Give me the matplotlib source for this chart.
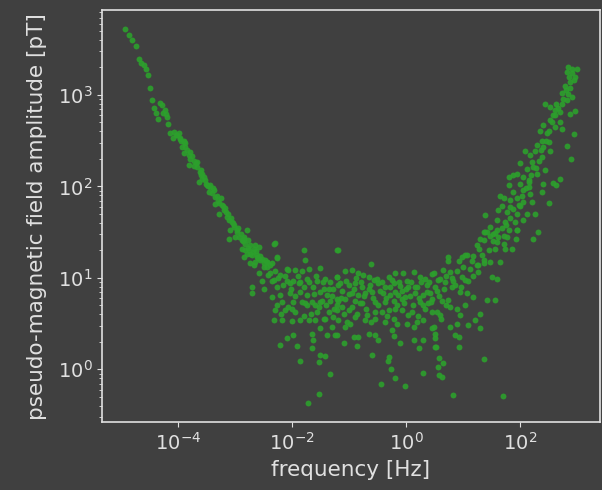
import numpy as np
import matplotlib
matplotlib.use("Agg")
import matplotlib.pyplot as plt
from matplotlib import ticker

# log10 of frequency [Hz] and amplitude [pT]
# low-frequency branch (~1/f)
lf_low = [-4.94, -4.87, -4.81, -4.74, -4.70, -4.65, -4.60, -4.57, -4.53, -4.50,
          -4.47, -4.43, -4.40, -4.36, -4.29, -4.24, -4.20, -4.18, -4.14, -4.10,
          -4.05, -3.97, -3.91, -3.88, -4.32, -4.27, -4.22,
          -4.08, -4.02, -3.97, -3.91, -3.88, -3.94, -3.91, -3.82, -3.79, -3.73,
          -3.70, -3.82, -3.67, -3.61, -3.59, -3.56, -3.64, -3.53, -3.50, -3.44,
          -3.38, -3.47, -3.32, -3.26, -3.35, -3.21, -3.18, -3.29, -3.15, -3.12,
          -3.06, -3.03, -2.97, -3.09, -2.91, -3.00, -3.12, -2.85, -2.80, -2.83,
          -2.74, -2.88, -2.68, -2.59, -2.80, -2.71, -2.62, -2.53, -2.44, -2.39,
          -2.65, -2.74, -2.27, -2.32, -2.50, -2.09,
          -3.99, -3.85, -3.76, -3.68, -3.63, -3.58, -3.52, -3.45, -3.41, -3.36,
          -3.30, -3.24, -3.20, -3.13, -3.08, -3.02, -2.95, -2.93, -2.86, -2.78,
          -2.69, -2.64, -2.57, -2.48,
          -3.95, -3.80, -3.72, -3.60, -3.48, -3.40, -3.28, -3.17, -3.05, -2.98,
          -2.89, -2.76, -2.60, -2.45]
la_low = [3.72, 3.65, 3.60, 3.53, 3.39, 3.35, 3.33, 3.28, 3.22, 3.08,
          2.94, 2.86, 2.80, 2.74, 2.89, 2.83, 2.76, 2.68, 2.58, 2.53,
          2.56, 2.53, 2.48, 2.43, 2.91, 2.80, 2.79,
          2.59, 2.56, 2.52, 2.50, 2.47, 2.43, 2.36, 2.34, 2.30, 2.28,
          2.25, 2.23, 2.21, 2.18, 2.14, 2.10, 2.05, 2.07, 2.01, 1.99,
          1.96, 1.94, 1.90, 1.87, 1.81, 1.79, 1.76, 1.70, 1.66, 1.63,
          1.61, 1.56, 1.52, 1.52, 1.48, 1.45, 1.43, 1.43, 1.52, 1.37,
          1.36, 1.32, 1.32, 1.34, 1.26, 1.25, 1.23, 1.21, 1.17, 1.14,
          1.17, 1.16, 1.23, 1.37, 1.16, 1.10,
          2.58, 2.40, 2.33, 2.27, 2.16, 2.08, 2.03, 2.02, 1.93, 1.88,
          1.84, 1.80, 1.74, 1.70, 1.65, 1.58, 1.55, 1.45, 1.40, 1.33,
          1.28, 1.29, 1.24, 1.20,
          2.50, 2.38, 2.22, 2.12, 2.00, 1.98, 1.82, 1.72, 1.60, 1.50,
          1.41, 1.30, 1.22, 1.12]

# noise floor
lf_floor = [-2.85, -2.77, -2.65, -2.83, -2.74, -2.85, -2.62, -2.56, -2.44, -2.36,
            -2.68, -2.50, -2.30, -2.59, -2.42, -2.21, -2.53, -2.36, -2.09, -1.98,
            -1.86, -1.74, -1.57, -1.42, -1.33, -1.22, -2.71, -2.50, -2.27, -2.04,
            -1.89, -1.63, -1.45, -1.28, -2.71, -2.36, -2.21, -2.04, -1.86, -1.74,
            -1.51, -1.39, -2.18, -1.98, -1.83, -1.65, -1.48, -1.33, -1.22, -2.27,
            -2.07, -1.74, -1.54, -1.22, -2.30, -2.12, -1.95, -1.68, -1.57, -1.36,
            -1.22, -2.33, -2.18, -2.01, -1.86, -1.71, -1.60, -1.42, -1.28, -1.51,
            -1.30, -1.65, -1.39, -1.25, -1.98, -2.09, -1.63, -2.21, -1.92, -1.65,
            -1.51, -1.42, -1.87, -1.54, -1.33, -1.53, -1.72, -2.31, -1.80, -1.21,
            -2.27, -1.77, -1.51, -1.83, -1.71, -2.07, -1.95,
            -1.19, -0.61, -1.08, -0.95, -0.84, -0.75, -0.66, -0.51, -1.22, -1.16,
            -1.01, -0.90, -0.78, -0.66, -0.49, -0.31, -0.19, -0.05, 0.13, 0.25,
            0.33, 0.45, 0.01, -0.37, -0.22, -0.11, 0.04, 0.19, 0.36, -1.13,
            -0.95, -0.84, -0.72, -0.60, -0.40, -0.28, -0.14, -0.02, 0.16, 0.30,
            0.42, -1.19, -1.07, -0.90, -0.78, -0.54, -0.37, -0.22, -0.08, 0.25,
            0.39, -1.13, -1.01, -0.87, -0.69, -0.54, -0.43, -0.31, -0.19, -0.08,
            0.10, 0.33, 0.45, -1.19, -1.04, -0.90, -0.72, -0.54, -0.37, -0.22,
            0.04, 0.19, 0.30, -1.07, -0.66, -0.54, -0.25, 0.01, 0.13, 0.45,
            -1.22, -0.92, -0.84, -1.10, -0.87, -0.50, -0.22, -0.11, 0.13, 0.30,
            0.22, 0.51, -0.60, -0.31, -0.32, -0.27, -0.19, -0.44, -0.02, 0.29,
            0.51,
            0.48, 0.65, 0.77, 0.60, 0.68, 0.83, 0.98, 1.09, 1.50, 1.59,
            0.54, 0.80, 0.95, 1.07, 1.18, 1.42, 1.56, 0.45, 0.63, 0.77,
            0.89, 1.04, 1.30, 1.21, 1.09, 0.95, 0.54, 0.60, 0.77, 0.89,
            1.29, 0.48, 0.86, 0.92, 0.51, 0.53, 0.92, 0.57, 0.65, 0.55,
            0.57, 0.63, 1.37, 0.82, 1.70, 1.27, 1.37, 0.74, 0.92, 1.04,
            1.15, 1.24,
            -2.40, -2.33, -2.25, -2.16, -2.12, -2.02, -1.95, -1.90, -1.80, -1.77,
            -1.70, -1.62, -1.58, -1.52, -1.46, -1.40, -1.36, -1.30, -1.26, -1.20,
            -1.15, -1.10, -1.05, -1.00, -0.96, -0.92, -0.88, -0.82, -0.80, -0.74,
            -0.70, -0.64, -0.58, -0.56, -0.50, -0.46, -0.42, -0.36, -0.33, -0.28,
            -0.25, -0.20, -0.16, -0.12, -0.08, -0.04, 0.00, 0.06, 0.08, 0.12,
            0.16, 0.22, 0.26, 0.30, 0.36, 0.40, 0.44, 0.50, 0.55, 0.58,
            0.66, 0.70, 0.74, 0.80, 0.85, 0.90, 0.96, 1.00, 1.04, 1.12,
            1.18, 1.26, -2.20, -2.00, -1.80, -1.60, -1.44, -0.98, -0.62, -0.16,
            0.20, 0.62, 0.70]
la_floor = [1.45, 1.41, 1.36, 1.30, 1.26, 1.23, 1.25, 1.19, 1.17, 1.16,
            1.14, 1.12, 1.08, 1.05, 1.03, 1.03, 0.97, 0.97, 0.97, 0.97,
            0.95, 0.99, 0.97, 0.99, 0.95, 1.01, 0.90, 0.88, 0.90, 0.94,
            0.94, 0.90, 0.88, 0.88, 0.83, 0.79, 0.81, 0.83, 0.85, 0.81,
            0.85, 0.81, 0.74, 0.74, 0.74, 0.74, 0.75, 0.75, 0.77, 0.70,
            0.68, 0.70, 0.68, 0.70, 0.65, 0.65, 0.63, 0.61, 0.63, 0.63,
            0.65, 0.54, 0.54, 0.53, 0.54, 0.54, 0.54, 0.55, 0.57, 0.45,
            0.46, 0.39, 0.37, 0.37, 0.37, 0.34, 0.32, 0.27, 0.26, 0.23,
            0.16, 0.15, 0.09, 0.08, -0.05, -0.27, -0.37, 1.38, 1.30, 1.30,
            1.22, 1.20, 1.11, 1.08, 1.10, 1.09, 1.09,
            1.30, 1.15, 1.08, 1.09, 1.05, 1.03, 1.01, 0.99, 1.01, 0.94,
            0.92, 0.94, 0.90, 0.88, 0.94, 1.01, 1.05, 1.05, 1.06, 1.01,
            0.99, 1.04, 0.97, 0.90, 0.94, 0.91, 0.90, 0.90, 0.92, 0.86,
            0.83, 0.81, 0.83, 0.85, 0.83, 0.81, 0.81, 0.79, 0.83, 0.81,
            0.83, 0.75, 0.77, 0.75, 0.72, 0.74, 0.74, 0.75, 0.77, 0.74,
            0.72, 0.68, 0.65, 0.61, 0.59, 0.63, 0.63, 0.65, 0.66, 0.65,
            0.63, 0.66, 0.63, 0.54, 0.52, 0.57, 0.54, 0.55, 0.52, 0.55,
            0.59, 0.52, 0.54, 0.46, 0.39, 0.37, 0.43, 0.50, 0.46, 0.45,
            0.37, 0.35, 0.35, 0.29, 0.26, 0.32, 0.36, 0.29, 0.32, 0.32,
            0.23, 0.39, 0.16, 0.14, 0.09, 0.00, -0.09, -0.16, -0.18, -0.04,
            0.24,
            1.05, 1.09, 1.06, 0.99, 0.95, 0.97, 1.01, 0.97, 1.01, 0.99,
            0.86, 0.90, 0.85, 0.83, 0.79, 0.76, 0.76, 0.77, 0.75, 0.68,
            0.66, 0.70, 0.61, 0.54, 0.49, 0.59, 0.63, 0.59, 0.46, 0.50,
            0.45, 0.46, 0.37, 0.35, 0.34, 0.24, 0.24, 0.12, 0.07, 0.03,
            -0.06, -0.08, 0.11, -0.28, -0.29, 1.06, 1.16, 1.23, 1.18, 1.25,
            1.18, 1.14,
            1.05, 0.98, 1.00, 0.92, 1.02, 0.88, 0.80, 1.02, 0.90, 0.72,
            0.95, 0.82, 1.02, 0.74, 0.95, 0.70, 0.88, 0.80, 0.66, 0.92,
            0.78, 0.60, 0.97, 0.82, 0.68, 0.88, 1.00, 0.72, 0.95, 0.80,
            0.66, 0.92, 0.78, 0.98, 0.70, 0.86, 0.96, 0.78, 0.58, 0.90,
            0.98, 0.84, 0.70, 0.96, 0.86, 0.72, 0.88, 0.80, 0.96, 0.70,
            0.90, 0.78, 0.95, 0.70, 0.84, 0.96, 0.74, 0.90, 0.98, 0.80,
            0.88, 1.02, 0.76, 1.00, 0.92, 1.08, 0.90, 1.12, 0.98, 1.10,
            1.02, 1.14, 0.60, 0.66, 0.58, 0.70, 0.55, 0.50, 0.52, 0.50,
            0.58, 0.55, 0.70]

# high-frequency branch
lf_high = [1.39, 1.47, 1.56, 1.77, 1.93, 1.24, 1.36, 1.59, 1.71, 1.56,
           1.74, 1.85, 0.98, 1.07, 1.33, 1.36, 1.47, 1.64, 0.74, 1.94,
           2.85, 2.82, 2.91, 3.00, 2.97, 2.94, 2.88, 2.79, 2.88, 2.73,
           2.85, 2.91, 2.82, 2.73, 2.64, 2.44, 2.53, 2.61, 2.70, 2.97,
           2.58, 2.87, 2.53, 2.70, 2.41, 2.35, 2.61, 2.73, 2.47, 2.94,
           2.38, 2.50, 2.29, 2.41, 2.53, 2.26, 2.82, 2.09, 2.18, 2.38,
           2.89, 2.21, 2.00, 2.23, 2.12, 2.44, 2.29, 1.94, 1.80, 1.88,
           2.06, 2.15, 2.70, 2.00, 2.58, 2.41, 2.64, 1.80, 2.15, 2.38,
           1.88, 2.06, 2.18, 1.65, 1.71, 1.83, 1.94, 2.06, 2.21, 2.50,
           1.68, 1.83, 2.00, 1.62, 1.77, 1.94, 2.12, 2.26, 1.39, 1.59,
           1.74, 1.91, 2.06, 1.47, 1.59, 1.42, 1.53, 1.36, 1.80, 1.94,
           2.32, 1.71, 2.23, 1.30,
           1.45, 1.52, 1.62, 1.68, 1.75, 1.82, 1.88, 1.98, 2.03, 2.10,
           2.16, 2.20, 2.28, 2.33, 2.36, 2.45, 2.50, 2.56, 2.62, 2.67,
           2.75, 2.80, 2.86, 2.92, 1.28, 1.18]
la_high = [1.50, 1.46, 1.49, 1.45, 1.42, 1.36, 1.41, 1.39, 1.37, 1.31,
           1.31, 1.32, 1.23, 1.25, 1.25, 1.19, 1.17, 1.17, 1.18, 1.52,
           3.30, 3.25, 3.28, 3.28, 3.20, 3.16, 3.14, 3.10, 3.08, 3.02,
           3.01, 2.98, 2.94, 2.90, 2.90, 2.90, 2.87, 2.83, 2.81, 2.82,
           2.78, 2.79, 2.72, 2.70, 2.67, 2.61, 2.65, 2.63, 2.58, 2.57,
           2.50, 2.48, 2.45, 2.43, 2.39, 2.39, 2.44, 2.39, 2.34, 2.32,
           2.30, 2.27, 2.25, 2.21, 2.19, 2.18, 2.14, 2.14, 2.10, 2.12,
           2.10, 2.07, 2.08, 2.03, 2.04, 2.03, 2.01, 2.01, 1.99, 1.94,
           1.94, 1.96, 1.92, 1.90, 1.87, 1.85, 1.87, 1.83, 1.83, 1.82,
           1.79, 1.77, 1.79, 1.74, 1.72, 1.70, 1.70, 1.70, 1.69, 1.63,
           1.61, 1.61, 1.63, 1.56, 1.52, 1.50, 1.48, 1.50, 1.52, 1.52,
           1.50, 1.46, 1.43, 1.43,
           1.30, 1.40, 1.45, 1.55, 1.58, 1.65, 1.75, 1.80, 1.90, 1.98,
           2.05, 2.12, 2.20, 2.28, 2.40, 2.50, 2.60, 2.70, 2.78, 2.86,
           2.95, 3.05, 3.20, 3.24, 1.32, 1.24]

bg = "#404040"
fg = "#e0e0e0"
green = "#2ca02c"

fig = plt.figure(figsize=(6.02, 4.9), dpi=100, facecolor=bg)
ax = fig.add_axes([0.17, 0.139, 0.826, 0.84], facecolor=bg)

for lf, la in [(lf_low, la_low), (lf_floor, la_floor), (lf_high, la_high)]:
    ax.scatter(10 ** np.array(lf), 10 ** np.array(la), s=18, color=green,
               alpha=0.9, linewidths=0)

ax.set_xscale("log")
ax.set_yscale("log")
ax.set_xticks([1e-4, 1e-2, 1e0, 1e2])
ax.xaxis.set_minor_locator(ticker.NullLocator())
ax.set_xlabel("frequency [Hz]", fontsize=15.5, color=fg, labelpad=5)
ax.set_ylabel("pseudo-magnetic field amplitude [pT]", fontsize=15.5,
              color=fg, labelpad=8)
ax.tick_params(axis="both", which="both", colors=fg, labelsize=14)
for sp in ax.spines.values():
    sp.set_color(fg)
    sp.set_linewidth(1.2)

fig.savefig("out.png", dpi=100, facecolor=bg)
